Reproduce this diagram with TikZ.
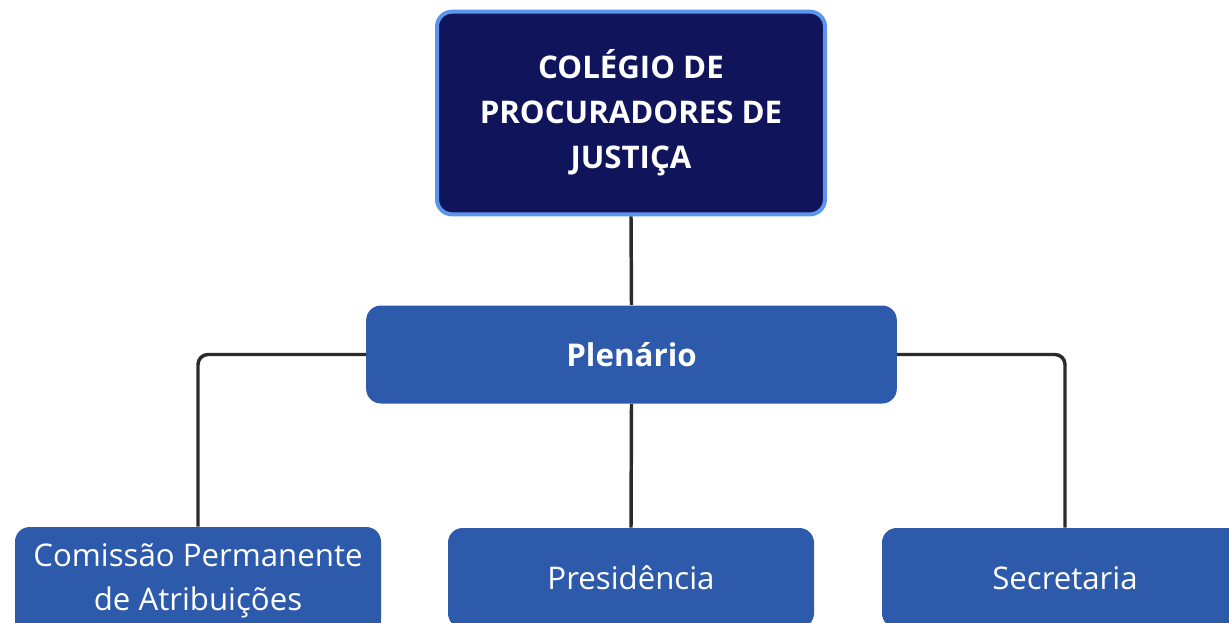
\documentclass[tikz,border=0pt]{standalone}
\usepackage{fontspec}
\setmainfont{Open Sans}
\definecolor{navy}{RGB}{16,20,90}
\definecolor{navyborder}{RGB}{92,150,236}
\definecolor{boxblue}{RGB}{45,90,170}
\definecolor{linegray}{RGB}{43,43,43}
\tikzset{
  topbox/.style={draw=navyborder, line width=3pt, fill=navy, rounded corners=11.25pt,
    minimum width=291pt, minimum height=152pt, text=white, align=center,
    font=\bfseries\fontsize{23.4}{33.75}\selectfont, inner sep=0pt},
  midbox/.style={fill=boxblue, rounded corners=11pt, minimum width=398pt, minimum height=73.5pt,
    text=white, font=\bfseries\fontsize{23.5}{33}\selectfont, inner sep=0pt},
  leafbox/.style={fill=boxblue, rounded corners=11pt, minimum width=274.5pt, minimum height=75pt,
    text=white, align=center, font=\fontsize{23.4}{33}\selectfont, inner sep=0pt},
  conn/.style={draw=linegray, line width=2.6pt, rounded corners=7.5pt}
}
\begin{document}
\begin{tikzpicture}[x=0.75pt, y=-0.75pt]
\useasboundingbox (0,0) rectangle (1229,622);
\clip (0,0) rectangle (1229,622);
\node[topbox] (col) at (631,113) {COLÉGIO DE\\PROCURADORES DE\\JUSTIÇA};
\node[midbox] (plen) at (631.5,354.5) {Plenário};
\node[leafbox, minimum height=81pt] (com) at (198,581) {Comissão Permanente\\de Atribuições};
\node[leafbox] (pres) at (631,578) {Presidência};
\node[leafbox] (sec) at (1065,578) {Secretaria};
\draw[conn] (col.south) -- (plen.north);
\draw[conn] (plen.south) -- (pres.north);
\draw[conn] (plen.west) -| (com.north);
\draw[conn] (plen.east) -| (sec.north);
\end{tikzpicture}
\end{document}
